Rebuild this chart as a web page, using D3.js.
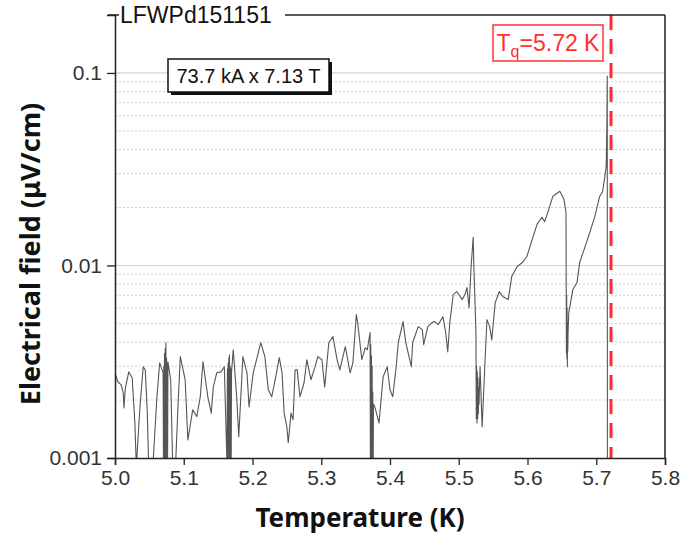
<!DOCTYPE html>
<html>
<head>
<meta charset="utf-8">
<script src="https://cdn.jsdelivr.net/npm/d3@7"></script>
<style>
  body { margin: 0; background: #fff; }
  svg { display: block; }
</style>
</head>
<body>
<div id="mainDiv"></div>
<script>
'use strict';

// [temperature (K), electric field (uV/cm)]
var trace = [
  [5.000, 0.00277], [5.004, 0.00249], [5.009, 0.00240], [5.012, 0.00218], [5.013, 0.00182],
  [5.015, 0.00230], [5.020, 0.00280], [5.025, 0.00261], [5.029, 0.00150], [5.031, 0.0009],
  [5.036, 0.00178], [5.041, 0.00298], [5.044, 0.00287], [5.047, 0.00171], [5.049, 0.0009],
  [5.055, 0.0009], [5.061, 0.00208], [5.065, 0.00312], [5.070, 0.00277],
  [5.0705, 0.0009], [5.071, 0.0030], [5.0715, 0.0009], [5.072, 0.0035], [5.0725, 0.0009],
  [5.073, 0.0037], [5.0735, 0.0009], [5.074, 0.00397], [5.0745, 0.0010], [5.075, 0.0033],
  [5.0755, 0.0009], [5.076, 0.0031], [5.0765, 0.0010], [5.077, 0.00316], [5.081, 0.00255],
  [5.084, 0.0009], [5.088, 0.0009],
  [5.092, 0.0020], [5.095, 0.00336], [5.102, 0.00255], [5.106, 0.00124], [5.113, 0.00178],
  [5.119, 0.00164], [5.124, 0.00208], [5.128, 0.00316], [5.131, 0.00264], [5.135, 0.00208],
  [5.140, 0.00171], [5.143, 0.00234], [5.148, 0.00277], [5.154, 0.00280], [5.159, 0.00298],
  [5.163, 0.0009], [5.1635, 0.0029], [5.164, 0.0009], [5.1645, 0.0031], [5.165, 0.0009],
  [5.1655, 0.0033], [5.166, 0.0010], [5.1665, 0.00344], [5.167, 0.0009], [5.1675, 0.0030],
  [5.168, 0.0010], [5.1685, 0.0029], [5.169, 0.0009], [5.1695, 0.0028],
  [5.172, 0.00365], [5.177, 0.00208], [5.180, 0.00129], [5.186, 0.00336], [5.192, 0.00277],
  [5.195, 0.00184], [5.201, 0.00277], [5.207, 0.00336], [5.212, 0.00397], [5.218, 0.00336],
  [5.223, 0.00226], [5.228, 0.00208], [5.233, 0.00255], [5.239, 0.00332], [5.243, 0.00277],
  [5.246, 0.00171], [5.250, 0.00145], [5.252, 0.00120], [5.256, 0.00171], [5.259, 0.00158],
  [5.262, 0.00287], [5.265, 0.00287], [5.269, 0.00208], [5.275, 0.00246], [5.279, 0.00324],
  [5.285, 0.00255], [5.291, 0.00298], [5.295, 0.00336], [5.301, 0.00324], [5.305, 0.00234],
  [5.311, 0.00397], [5.317, 0.00427], [5.323, 0.00324], [5.327, 0.00287], [5.335, 0.00379],
  [5.342, 0.00277], [5.346, 0.00312], [5.351, 0.00556], [5.353, 0.00505], [5.359, 0.00324],
  [5.364, 0.00374], [5.367, 0.00365], [5.371, 0.00448],
  [5.3715, 0.0009], [5.372, 0.0039], [5.3725, 0.0009], [5.373, 0.0034], [5.3735, 0.0009],
  [5.374, 0.0030], [5.3745, 0.0010], [5.375, 0.0022], [5.3755, 0.0009], [5.376, 0.0019],
  [5.378, 0.00184], [5.384, 0.00152], [5.390, 0.00264], [5.396, 0.00298], [5.400, 0.00226],
  [5.404, 0.00208], [5.409, 0.00298], [5.412, 0.00397], [5.419, 0.00511], [5.423, 0.00397],
  [5.431, 0.00298], [5.433, 0.00397], [5.441, 0.00481], [5.447, 0.00464], [5.449, 0.00388],
  [5.455, 0.00481], [5.461, 0.00505], [5.465, 0.00511], [5.470, 0.00493], [5.477, 0.00542],
  [5.481, 0.00448], [5.484, 0.00356], [5.487, 0.00505], [5.492, 0.00706], [5.497, 0.00732],
  [5.505, 0.00665], [5.509, 0.00706], [5.512, 0.00768], [5.515, 0.00604], [5.518, 0.00988],
  [5.521, 0.0140], [5.522, 0.00988], [5.525, 0.00448],
  [5.5255, 0.0016], [5.526, 0.0030], [5.5265, 0.00152], [5.527, 0.0028], [5.5275, 0.0016],
  [5.528, 0.0026], [5.5285, 0.0017], [5.529, 0.0023], [5.5295, 0.0019],
  [5.531, 0.00298], [5.534, 0.00145], [5.537, 0.00255], [5.541, 0.00523], [5.545, 0.00481],
  [5.548, 0.00410], [5.553, 0.00641], [5.559, 0.00732], [5.564, 0.00690], [5.572, 0.00665],
  [5.577, 0.00876], [5.585, 0.00988], [5.593, 0.0104], [5.599, 0.0111], [5.607, 0.0137],
  [5.614, 0.0164], [5.621, 0.0178], [5.625, 0.0169], [5.630, 0.0191], [5.637, 0.0229],
  [5.647, 0.0243], [5.653, 0.0221], [5.656, 0.0189],
  [5.6563, 0.0080], [5.6566, 0.0035], [5.657, 0.0070], [5.6573, 0.0033], [5.6576, 0.0060],
  [5.658, 0.00298], [5.6583, 0.0050], [5.6586, 0.0036], [5.659, 0.0045],
  [5.660, 0.00569], [5.666, 0.00750], [5.672, 0.00815], [5.676, 0.0104], [5.684, 0.0126],
  [5.691, 0.0150], [5.698, 0.0180], [5.705, 0.0229], [5.709, 0.0240], [5.712, 0.0281],
  [5.7145, 0.0328], [5.7155, 0.0576], [5.716, 0.0965], [5.7162, 0.0009]
];

var xTicks = [5.0, 5.1, 5.2, 5.3, 5.4, 5.5, 5.6, 5.7, 5.8];
var yTicks = [0.001, 0.01, 0.1];
var yTickLabels = ['0.001', '0.01', '0.1'];
var sampleLabel = 'LFWPd151151';
var conditionLabel = '73.7 kA x 7.13 T';
var quenchT = 5.72;
var quenchLabel = '5.72 K';

var myApp = {};

myApp.margins = { top: 15, bottom: 78, left: 115, right: 16 };
myApp.cw = 550;
myApp.ch = 443;

myApp.xScale = d3.scaleLinear().domain([5.0, 5.8]).range([0, myApp.cw]);
myApp.yScale = d3.scaleLog().domain([0.001, 0.2]).range([myApp.ch, 0]);

myApp.run = function () {
    var svg = d3.select('#mainDiv').append('svg')
        .attr('width', myApp.cw + myApp.margins.left + myApp.margins.right)
        .attr('height', myApp.ch + myApp.margins.top + myApp.margins.bottom);

    var g = svg.append('g')
        .attr('transform', 'translate(' + myApp.margins.left + ',' + myApp.margins.top + ')');

    var x = myApp.xScale, y = myApp.yScale;

    g.append('clipPath').attr('id', 'clip')
        .append('rect').attr('width', myApp.cw).attr('height', myApp.ch);

    // grid: solid at decades, dotted at 2..9
    var minor = y.ticks().filter(function (v) { return yTicks.indexOf(v) < 0 && v < 0.1; });
    g.selectAll('.minorGrid').data(minor).enter().append('line')
        .attr('x1', 0).attr('x2', myApp.cw)
        .attr('y1', function (d) { return y(d); }).attr('y2', function (d) { return y(d); })
        .attr('stroke', '#cfcfcf').attr('stroke-width', 1).attr('stroke-dasharray', '2,2');
    g.selectAll('.majorGrid').data([0.01, 0.1]).enter().append('line')
        .attr('x1', 0).attr('x2', myApp.cw)
        .attr('y1', function (d) { return y(d); }).attr('y2', function (d) { return y(d); })
        .attr('stroke', '#d4d4d4').attr('stroke-width', 1.2);

    // data trace
    var line = d3.line()
        .x(function (d) { return x(d[0]); })
        .y(function (d) { return y(d[1]); });
    g.append('path').datum(trace)
        .attr('clip-path', 'url(#clip)')
        .attr('d', line)
        .attr('fill', 'none')
        .attr('stroke', '#555')
        .attr('stroke-width', 1.1)
        .attr('stroke-linejoin', 'round');

    // quench line
    g.append('line')
        .attr('x1', x(quenchT) + 1).attr('x2', x(quenchT) + 1)
        .attr('y1', 0).attr('y2', myApp.ch)
        .attr('stroke', '#ff2b2b').attr('stroke-width', 3)
        .attr('stroke-dasharray', '15,9');

    // frame
    g.append('line').attr('x1', myApp.cw).attr('x2', myApp.cw).attr('y1', 0).attr('y2', myApp.ch)
        .attr('stroke', '#222').attr('stroke-width', 1.5);
    g.append('line').attr('x1', -7).attr('x2', 4).attr('y1', 0).attr('y2', 0)
        .attr('stroke', '#222').attr('stroke-width', 1.5);
    g.append('line').attr('x1', 170).attr('x2', myApp.cw).attr('y1', 0).attr('y2', 0)
        .attr('stroke', '#222').attr('stroke-width', 1.5);

    g.append('text')
        .attr('x', 5).attr('y', 8)
        .attr('font-family', 'Liberation Sans, Arial, sans-serif')
        .attr('font-size', '23px')
        .attr('fill', '#111')
        .text(sampleLabel);

    // x axis
    var xAxisGroup = g.append('g').attr('transform', 'translate(0,' + myApp.ch + ')');
    xAxisGroup.call(d3.axisBottom(x).tickValues(d3.range(5.05, 5.8, 0.1)).tickSize(5).tickFormat(''));
    xAxisGroup.call(d3.axisBottom(x).tickValues(xTicks).tickSize(7).tickPadding(5)
        .tickFormat(d3.format('.1f')));
    xAxisGroup.selectAll('path.domain').attr('stroke', '#222').attr('stroke-width', 1.5);
    xAxisGroup.selectAll('line').attr('stroke', '#222').attr('stroke-width', 1.3);
    xAxisGroup.selectAll('text')
        .attr('font-family', 'Liberation Sans, Arial, sans-serif')
        .attr('font-size', '21px').attr('fill', '#333');

    // y axis
    var yAxisGroup = g.append('g');
    yAxisGroup.call(d3.axisLeft(y).tickValues(minor).tickSize(5).tickFormat(''));
    yAxisGroup.call(d3.axisLeft(y).tickValues(yTicks).tickSize(8).tickPadding(5)
        .tickFormat(function (d, i) { return yTickLabels[i]; }));
    yAxisGroup.selectAll('path.domain').attr('stroke', '#222').attr('stroke-width', 1.5);
    yAxisGroup.selectAll('line').attr('stroke', '#222').attr('stroke-width', 1.3);
    yAxisGroup.selectAll('text')
        .attr('font-family', 'Liberation Sans, Arial, sans-serif')
        .attr('font-size', '21px').attr('fill', '#333');

    // axis titles
    svg.append('text')
        .attr('x', 360)
        .attr('y', 527)
        .attr('text-anchor', 'middle')
        .attr('font-family', 'Noto Sans, sans-serif')
        .attr('font-weight', 'bold')
        .attr('font-size', '26px')
        .attr('fill', '#111')
        .text('Temperature (K)');

    svg.append('text')
        .attr('transform', 'translate(40,' + 254 + ') rotate(-90)')
        .attr('text-anchor', 'middle')
        .attr('font-family', 'Noto Sans, sans-serif')
        .attr('font-weight', 'bold')
        .attr('font-size', '27px')
        .attr('fill', '#111')
        .text('Electrical field (\u03bcV/cm)');

    // condition box with shadow
    var box = g.append('g').attr('transform', 'translate(53,44)');
    box.append('rect').attr('x', 3).attr('y', 3).attr('width', 161).attr('height', 33).attr('fill', '#111');
    box.append('rect').attr('width', 161).attr('height', 33)
        .attr('fill', '#fff').attr('stroke', '#111').attr('stroke-width', 1.5);
    box.append('text').attr('x', 80.5).attr('y', 24).attr('text-anchor', 'middle')
        .attr('font-family', 'Liberation Sans, Arial, sans-serif')
        .attr('font-size', '20px').attr('fill', '#111')
        .text(conditionLabel);

    // quench label
    var qb = g.append('g').attr('transform', 'translate(378,10)');
    qb.append('rect').attr('width', 110).attr('height', 36)
        .attr('fill', '#fff').attr('stroke', '#ff3030').attr('stroke-width', 1.5);
    var qt = qb.append('text').attr('x', 55).attr('y', 26).attr('text-anchor', 'middle')
        .attr('font-family', 'Liberation Sans, Arial, sans-serif')
        .attr('font-size', '23px').attr('fill', '#ff3030');
    qt.append('tspan').text('T');
    qt.append('tspan').attr('font-size', '16px').attr('dy', 6).text('q');
    qt.append('tspan').attr('dy', -6).text('=' + quenchLabel);
};

window.onload = myApp.run;
</script>
</body>
</html>
